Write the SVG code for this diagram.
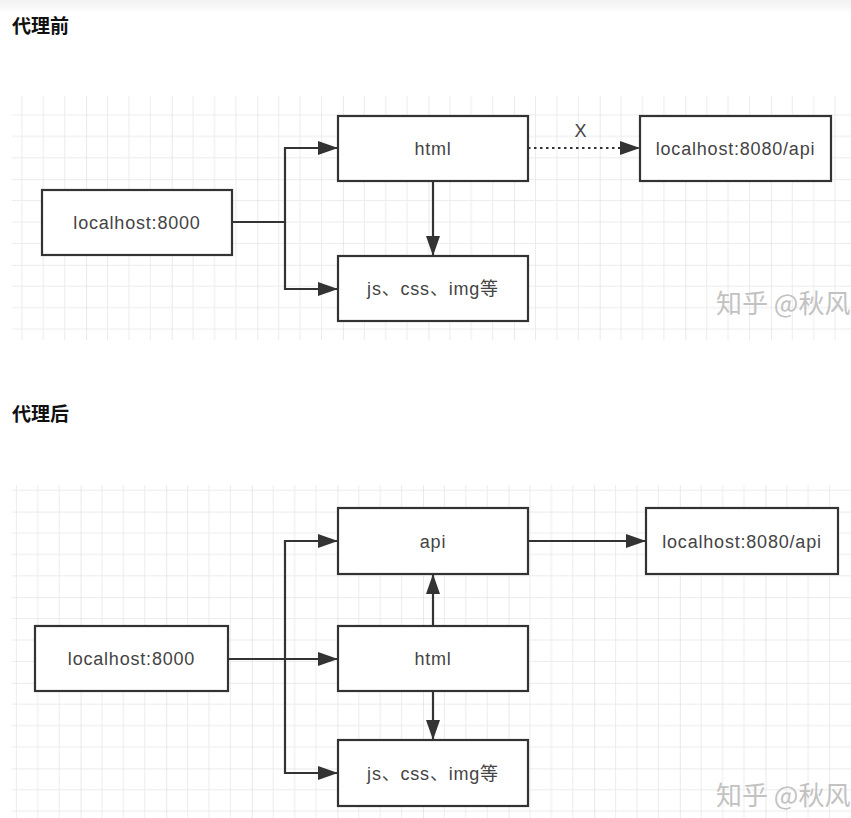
<svg xmlns="http://www.w3.org/2000/svg" width="851" height="818" viewBox="0 0 851 818">
<defs>
<pattern id="gridTop" x="0.5" y="8" width="85.6" height="85.6" patternUnits="userSpaceOnUse">
<path d="M0 0V85.6M21.4 0V85.6M42.8 0V85.6M64.2 0V85.6M0 0H85.6M0 21.4H85.6M0 42.8H85.6M0 64.2H85.6" stroke="#ececec" stroke-width="1" fill="none"/>
<path d="M0 0V85.6M0 0H85.6" stroke="#e0e0e0" stroke-width="1.2" fill="none"/>
</pattern>
<pattern id="gridBot" x="-5" y="-2" width="85.6" height="85.6" patternUnits="userSpaceOnUse">
<path d="M0 0V85.6M21.4 0V85.6M42.8 0V85.6M64.2 0V85.6M0 0H85.6M0 21.4H85.6M0 42.8H85.6M0 64.2H85.6" stroke="#ececec" stroke-width="1" fill="none"/>
<path d="M0 0V85.6M0 0H85.6" stroke="#e0e0e0" stroke-width="1.2" fill="none"/>
</pattern>
<linearGradient id="topfade" x1="0" y1="0" x2="0" y2="1">
<stop offset="0" stop-color="#f2f2f2"/>
<stop offset="1" stop-color="#ffffff"/>
</linearGradient>
<marker id="arr" viewBox="0 0 20 14" refX="20" refY="7" markerWidth="20" markerHeight="14" markerUnits="userSpaceOnUse" orient="auto">
<path d="M0 0L20 7L0 14Z" fill="#333"/>
</marker>
<style>
.box{fill:#fff;stroke:#333;stroke-width:2.2}
.lbl{font-family:"Liberation Sans","Noto Sans CJK SC",sans-serif;font-size:18px;letter-spacing:0.8px;fill:#444;text-anchor:middle}
.title{font-family:"Noto Sans CJK SC",sans-serif;font-size:19px;font-weight:bold;fill:#111}
.wm{font-family:"Noto Sans CJK SC",sans-serif;font-size:26px;fill:#c2c2c2}
.ln{fill:none;stroke:#333;stroke-width:2.2}
</style>
</defs>
<rect width="851" height="818" fill="#fff"/>
<rect width="851" height="14" fill="url(#topfade)"/>
<rect x="12" y="96" width="839" height="244" fill="url(#gridTop)"/>
<rect x="12" y="485" width="839" height="333" fill="url(#gridBot)"/>
<text class="title" x="12" y="33">代理前</text>
<text class="title" x="12" y="421">代理后</text>
<text class="wm" x="716" y="313">知乎 @秋风</text>
<text class="wm" x="716" y="805">知乎 @秋风</text>
<g id="connectors">
<path class="ln" d="M232 222H285V148H338" marker-end="url(#arr)"/>
<path class="ln" d="M285 222V289H338" marker-end="url(#arr)"/>
<path class="ln" d="M433 181V256" marker-end="url(#arr)"/>
<path class="ln" d="M528 148H640" stroke-dasharray="2.5 3.5" marker-end="url(#arr)"/>
<text class="lbl" x="581" y="137">X</text>
<path class="ln" d="M228 659H338" marker-end="url(#arr)"/>
<path class="ln" d="M285 659V541H338" marker-end="url(#arr)"/>
<path class="ln" d="M285 659V773H338" marker-end="url(#arr)"/>
<path class="ln" d="M433 626V574" marker-end="url(#arr)"/>
<path class="ln" d="M433 691V740" marker-end="url(#arr)"/>
<path class="ln" d="M528 541H646" marker-end="url(#arr)"/>
</g>
<g id="top-localhost8000"><rect class="box" x="42" y="190" width="190" height="65"/><text class="lbl" x="137" y="229">localhost:8000</text></g>
<g id="top-html"><rect class="box" x="338" y="116" width="190" height="65"/><text class="lbl" x="433" y="155">html</text></g>
<g id="top-assets"><rect class="box" x="338" y="256" width="190" height="65"/><text class="lbl" x="433" y="295">js、css、img等</text></g>
<g id="top-api8080"><rect class="box" x="640" y="116" width="191" height="65"/><text class="lbl" x="735.5" y="155">localhost:8080/api</text></g>
<g id="bot-api"><rect class="box" x="338" y="508" width="190" height="66"/><text class="lbl" x="433" y="548">api</text></g>
<g id="bot-api8080"><rect class="box" x="646" y="508" width="192" height="66"/><text class="lbl" x="742" y="548">localhost:8080/api</text></g>
<g id="bot-localhost8000"><rect class="box" x="35" y="626" width="193" height="65"/><text class="lbl" x="131.5" y="665">localhost:8000</text></g>
<g id="bot-html"><rect class="box" x="338" y="626" width="190" height="65"/><text class="lbl" x="433" y="665">html</text></g>
<g id="bot-assets"><rect class="box" x="338" y="740" width="190" height="66"/><text class="lbl" x="433" y="780">js、css、img等</text></g>
</svg>
